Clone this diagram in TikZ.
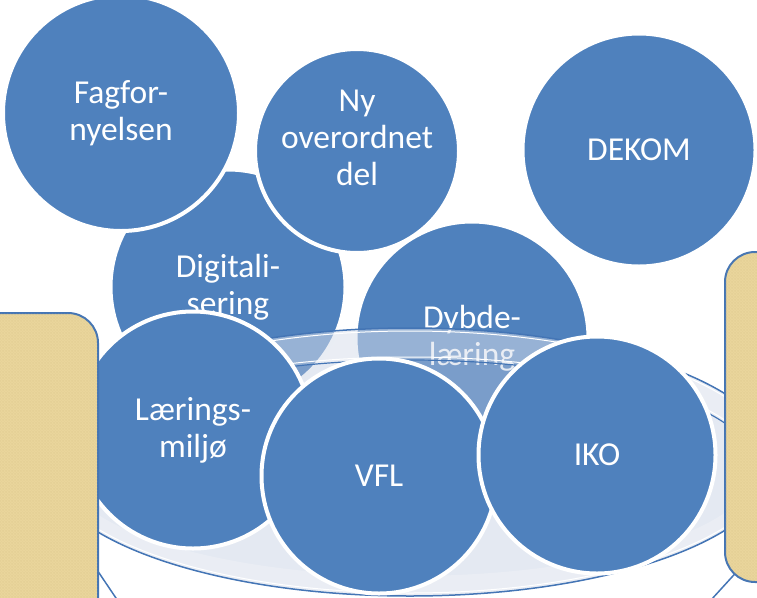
\documentclass[tikz,border=0pt]{standalone}
\usepackage{fontspec}
\setmainfont{Carlito}
\usetikzlibrary{patterns}
\definecolor{bubbleblue}{RGB}{79,129,189}
\definecolor{rimblue}{RGB}{68,117,181}
\definecolor{bowlfill}{RGB}{188,200,222}
\definecolor{parchfill}{RGB}{234,214,157}
\definecolor{parchline}{RGB}{205,178,110}

\begin{document}
\begin{tikzpicture}[x=1pt,y=-1pt,
    bubble/.style={circle,fill=bubbleblue,draw=white,line width=4pt,
        minimum size=#1,inner sep=0pt,text=white,align=center,
        font=\fontsize{33.5}{37}\selectfont},
    bubble/.default=233pt,
    parchment/.style={draw=rimblue,line width=2pt,rounded corners=30pt,fill=parchfill,
        postaction={pattern=crosshatch,pattern color=parchline,opacity=0.12}}]
    \useasboundingbox (0,0) rectangle (757,597);
    \clip (0,0) rectangle (757,597);

    % back row of bubbles
    \node[bubble=235pt] (digi) at (228,287) {Digitali-\\sering};
    \node[bubble] (dybde) at (472,338) {Dybde-\\læring};
    \node[bubble=236pt] (fag) at (121,113) {Fagfor-\\nyelsen};
    \node[bubble=204pt] (ny) at (357,151)
        {\raisebox{10pt}[\height][\depth]{\begin{tabular}{@{}c@{}}Ny\\overordnet\\del\end{tabular}}};
    \node[bubble] (dekom) at (639,150) {DEKOM};

    % the bowl
    \coordinate (bowl) at (410,462);
    \coordinate (inner) at (410,468);
    \draw[rimblue,line width=1.5pt] (60,515) -- (120,604);
    \draw[rimblue,line width=1.5pt] (742,566) -- (711,600);
    \fill[bowlfill,opacity=0.4] (bowl) ellipse [x radius=366,y radius=134];
    \fill[white,opacity=0.22,even odd rule] (bowl) ellipse [x radius=366,y radius=134]
        (inner) ellipse [x radius=346,y radius=108];
    \draw[white,line width=1pt] (bowl) ellipse [x radius=363,y radius=131];
    \draw[rimblue,line width=1.5pt] (bowl) ellipse [x radius=366,y radius=134];
    \draw[white,line width=1pt] (64,465) arc [start angle=180,end angle=360,x radius=346,y radius=108];
    \draw[rimblue,line width=1.2pt] (64,468) arc [start angle=180,end angle=360,x radius=346,y radius=108];

    % front row of bubbles
    \node[bubble=237pt] (miljo) at (193,430) {Lærings-\\miljø};
    \node[bubble=235pt] (vfl) at (379,476) {VFL};
    \node[bubble=237pt] (iko) at (597,455) {IKO};

    % parchment at the sides
    \draw[parchment] (-40,313) rectangle (98,650);
    \draw[parchment] (725,252) rectangle (800,582);
\end{tikzpicture}
\end{document}
